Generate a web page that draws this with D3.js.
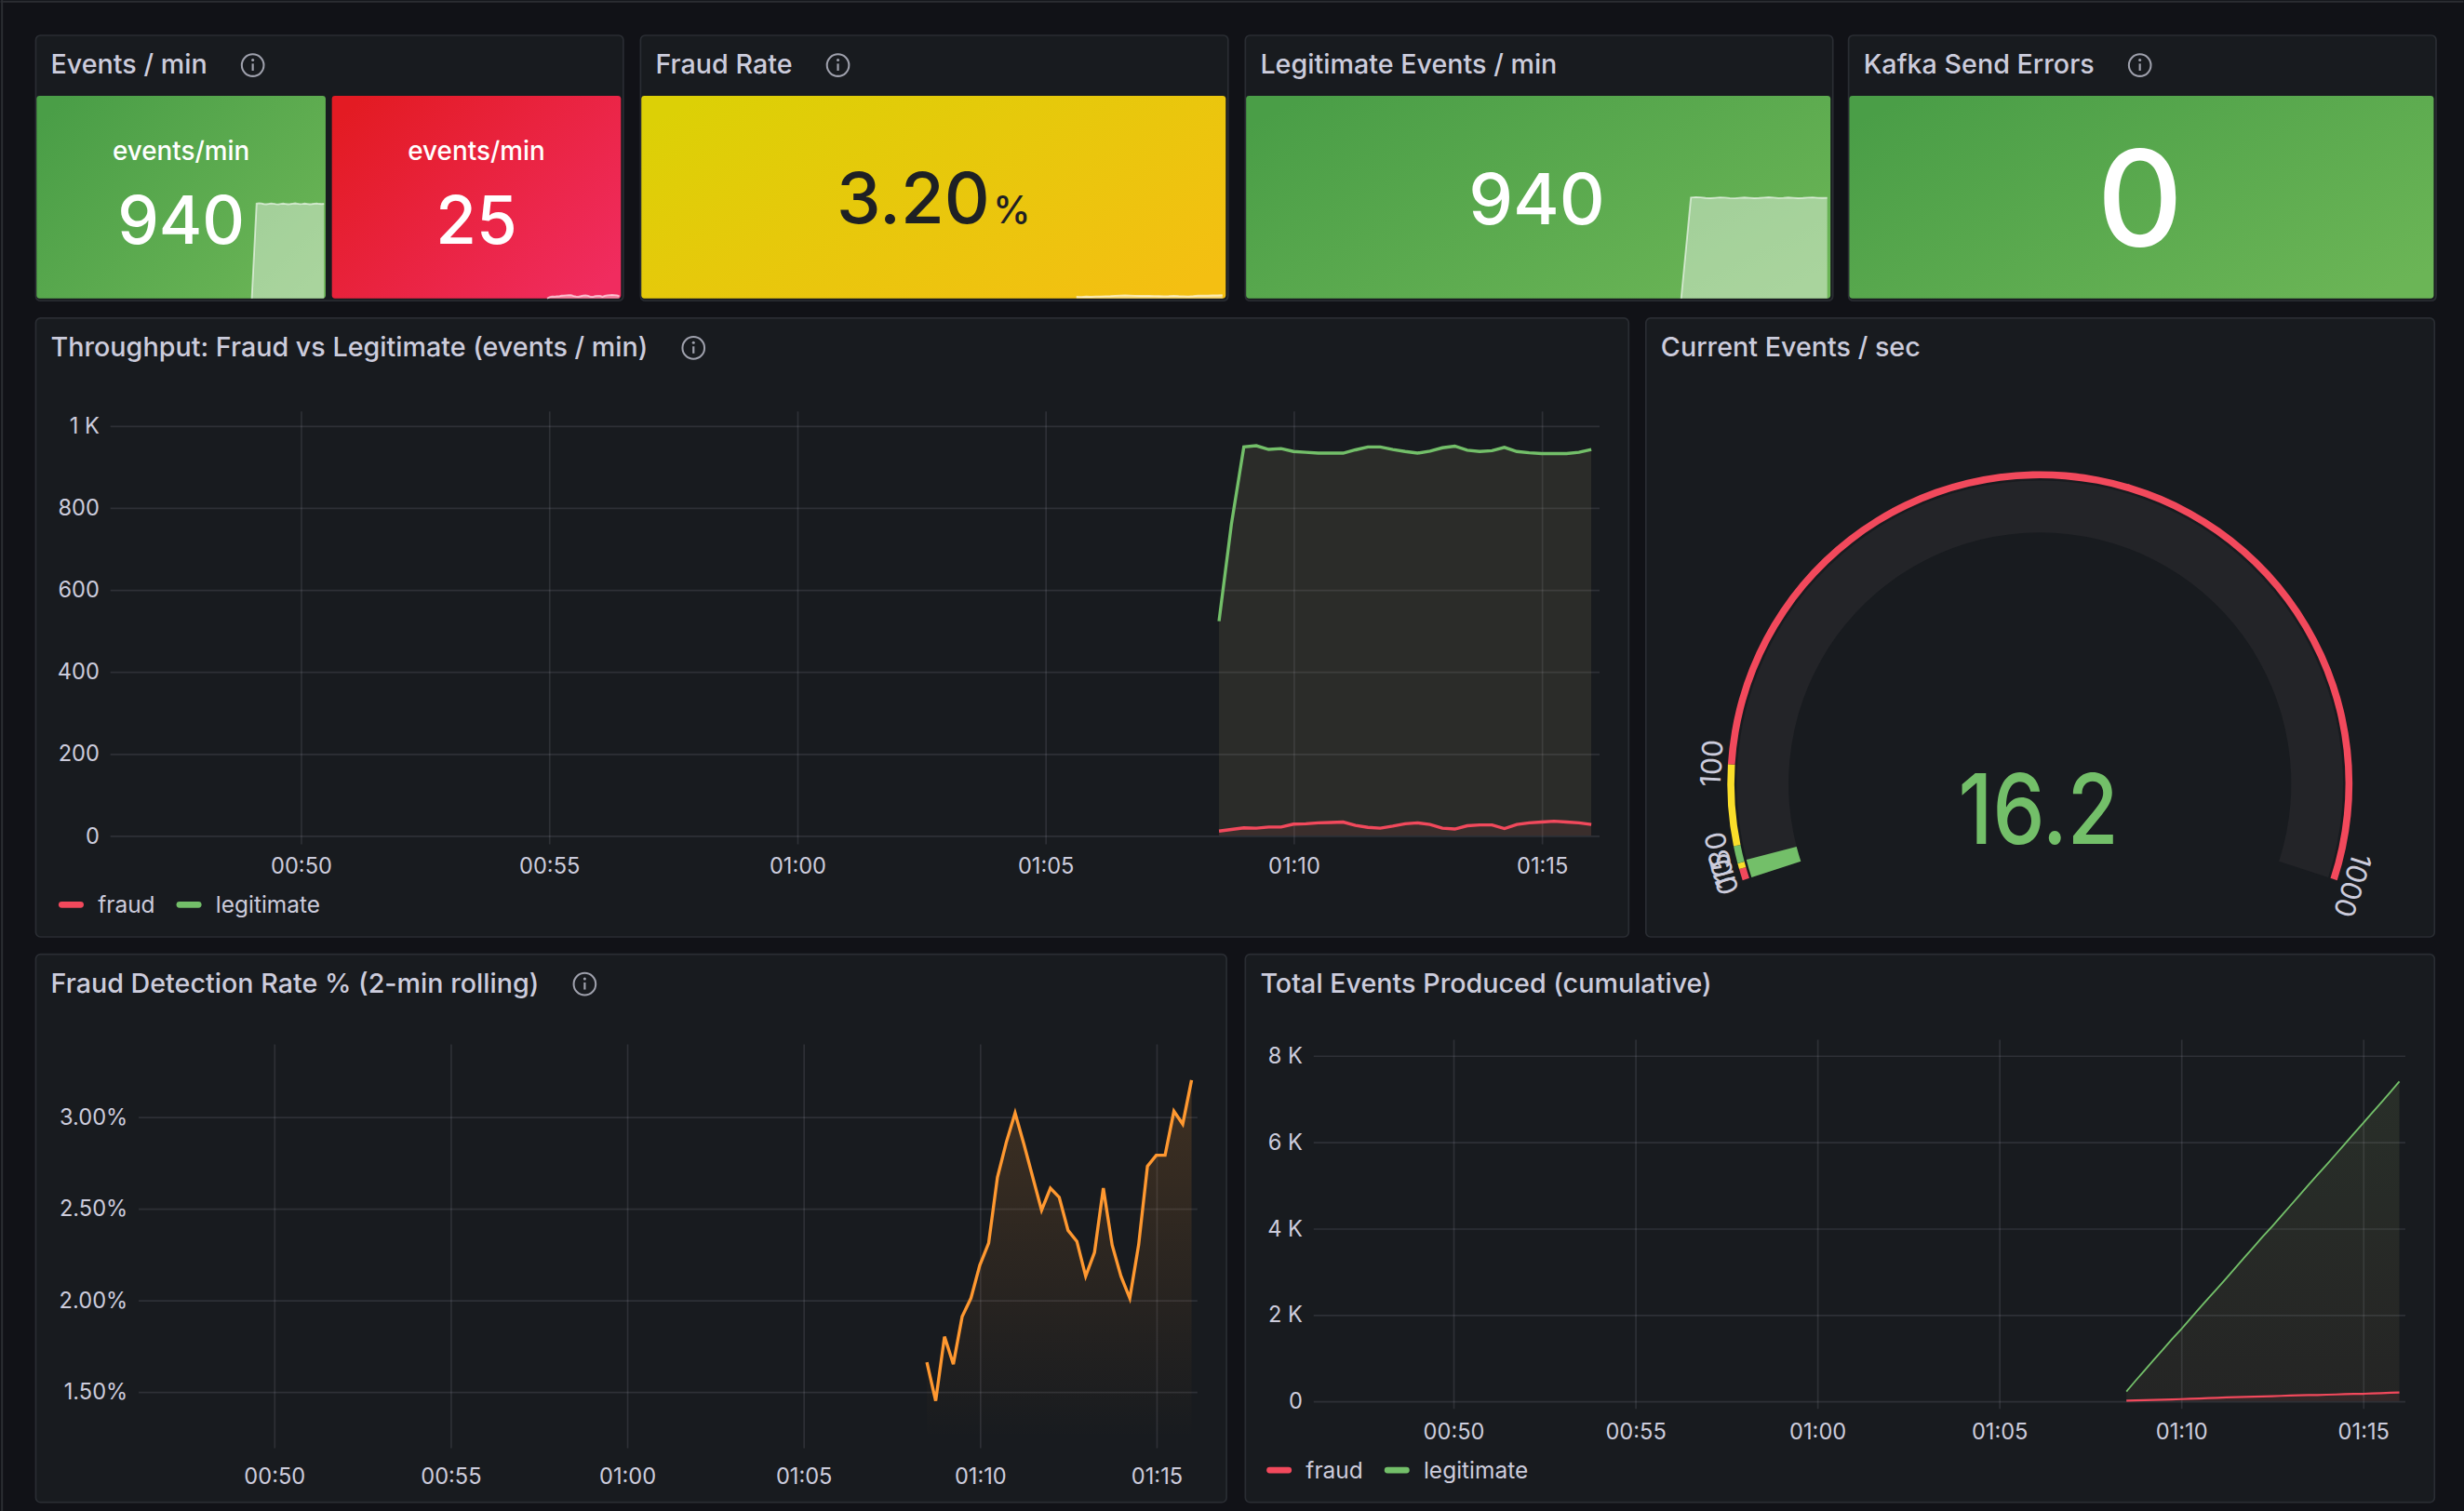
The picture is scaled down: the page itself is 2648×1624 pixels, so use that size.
<!DOCTYPE html>
<html>
<head>
<meta charset="utf-8">
<script src="https://cdn.jsdelivr.net/npm/d3@7"></script>
<style>
  html, body { margin: 0; background: #111217; }
  svg { display: block; font-family: Inter, "Noto Sans", sans-serif; }
  .ax .domain { display: none; }
  .ax line { stroke: rgba(204,204,220,0.12); }
  .ax text { fill: #ccccdc; font-size: 14px; font-family: Inter, "Noto Sans", sans-serif; }
</style>
</head>
<body>
<svg id="dash"></svg>
<script>
// ---- data (15 s steps) ----
const times = ["01:08:30","01:08:45","01:09:00","01:09:15","01:09:30","01:09:45","01:10:00","01:10:15",
  "01:10:30","01:10:45","01:11:00","01:11:15","01:11:30","01:11:45","01:12:00","01:12:15","01:12:30",
  "01:12:45","01:13:00","01:13:15","01:13:30","01:13:45","01:14:00","01:14:15","01:14:30","01:14:45",
  "01:15:00","01:15:15","01:15:30","01:15:45","01:16:00"];
const legitRate = [523, 760, 948, 951, 942, 944, 937, 935, 933, 933, 933, 941, 948, 948, 942, 937,
  933, 938, 946, 950, 940, 937, 939, 947, 937, 934, 932, 932, 932, 935, 942];
const fraudRate = [11, 15, 19, 18, 21, 21, 28, 29, 31, 32, 33, 25, 20, 18, 23, 29,
  31, 27, 18, 16, 24, 26, 26, 17, 27, 31, 33, 35, 33, 31, 27];
const fraudPct = [1.66, 1.45, 1.80, 1.65, 1.91, 2.01, 2.19, 2.31, 2.67, 2.86, 3.02, 2.85, 2.67, 2.49,
  2.61, 2.56, 2.38, 2.32, 2.13, 2.26, 2.61, 2.30, 2.13, 2.01, 2.30, 2.73, 2.79, 2.79, 3.03, 2.96, 3.20];
const totalLegit = [220, 470, 710, 950, 1190, 1430, 1660, 1900, 2140, 2380, 2610, 2850, 3090, 3330,
  3570, 3810, 4040, 4280, 4520, 4760, 5000, 5240, 5470, 5710, 5950, 6190, 6430, 6670, 6910, 7150, 7400];
const totalFraud = [8, 14, 20, 26, 32, 38, 45, 52, 60, 68, 76, 84, 90, 95, 100, 106, 113, 120, 127,
  133, 137, 141, 147, 153, 159, 164, 168, 175, 183, 191, 198];
const statLegit = [0, 470, 942, 946, 944, 938, 936, 940, 944, 941, 937, 935, 939, 943, 940, 936,
  938, 942, 945, 941, 937, 939, 943, 940, 936, 938, 942, 944, 940, 938, 940];
const statFraud = [0, 12, 19, 18, 21, 21, 28, 29, 31, 32, 33, 25, 20, 18, 23, 29,
  31, 27, 18, 16, 24, 26, 26, 17, 27, 31, 33, 35, 33, 31, 25];

const timeRange = ["00:46:10", "01:16:10"];
const timeTicks = ["00:50", "00:55", "01:00", "01:05", "01:10", "01:15"];
const throughputTicks = [0, 200, 400, 600, 800, 1000];
const pctTicks = [1.5, 2.0, 2.5, 3.0];
const totalTicks = [0, 2000, 4000, 6000, 8000];

const gaugeValue = 16.2;
const gaugeMax = 1000;
const gaugeSteps = [0, 10, 15, 30, 100];
const gaugeStepColors = ["#f2495c", "#fade2a", "#73bf69", "#fade2a", "#f2495c"];
const gaugeLabels = [0, 10, 15, 30, 100, 1000];

const kafkaErrors = 0;

// ---- setup ----
const W = 1568, H = 962;
const RED = "#f2495c", GREEN = "#73bf69", ORANGE = "#ff9830", TEXT = "#ccccdc";
const parse = d3.timeParse("%H:%M:%S");
const parseHM = d3.timeParse("%H:%M");
const T = times.map(parse);
const tDomain = timeRange.map(parse);

const svg = d3.select("#dash")
  .attr("width", 2648).attr("height", 1624)
  .attr("viewBox", `0 0 ${W} ${H}`);
const defs = svg.append("defs");

svg.append("rect").attr("width", W).attr("height", H).attr("fill", "#111217");
svg.append("line").attr("x1", 0).attr("x2", W).attr("y1", 1).attr("y2", 1)
  .attr("stroke", "#2b2d32").attr("stroke-width", 1.2);
svg.append("line").attr("x1", 1).attr("x2", 1).attr("y1", 0).attr("y2", H)
  .attr("stroke", "#2b2d32").attr("stroke-width", 1.2);

function linGrad(id, c0, c1) {
  const g = defs.append("linearGradient").attr("id", id)
    .attr("x1", 0).attr("y1", 0.15).attr("x2", 1).attr("y2", 0.85);
  g.append("stop").attr("offset", "0%").attr("stop-color", c0);
  g.append("stop").attr("offset", "100%").attr("stop-color", c1);
}
linGrad("gGreen", "#4a9e47", "#6bb556");
linGrad("gRed", "#e31b23", "#f02c5f");
linGrad("gYellow", "#dcd006", "#f4bf12");

function panel(x, y, w, h, title, info) {
  const g = svg.append("g");
  g.append("rect").attr("x", x + 0.5).attr("y", y + 0.5).attr("width", w).attr("height", h)
    .attr("rx", 3).attr("fill", "#181b1f").attr("stroke", "#2a2d33");
  const t = g.append("text").attr("x", x + 10).attr("y", y + 25)
    .attr("fill", TEXT).attr("font-size", 17).attr("font-weight", 500).text(title);
  if (info) {
    const cx = x + 10 + t.node().getComputedTextLength() + 29, cy = y + 19.5;
    g.append("circle").attr("cx", cx).attr("cy", cy).attr("r", 7)
      .attr("fill", "none").attr("stroke", "#9fa1ad").attr("stroke-width", 1.2);
    g.append("line").attr("x1", cx).attr("x2", cx).attr("y1", cy - 1).attr("y2", cy + 3.5)
      .attr("stroke", "#9fa1ad").attr("stroke-width", 1.3);
    g.append("circle").attr("cx", cx).attr("cy", cy - 3.3).attr("r", 0.9).attr("fill", "#9fa1ad");
  }
  return g;
}

function sparkline(x, y, w, h, values, maxV, frac) {
  const sx = d3.scaleTime().domain(tDomain).range([x, x + w]);
  const sy = d3.scaleLinear().domain([0, maxV]).range([y + h, y + h - h * frac]);
  svg.append("path").datum(values)
    .attr("d", d3.area().x((d, i) => sx(T[i])).y0(y + h).y1(d => sy(d)))
    .attr("fill", "#ffffff").attr("fill-opacity", 0.42);
  svg.append("path").datum(values)
    .attr("d", d3.line().x((d, i) => sx(T[i])).y(d => sy(d)))
    .attr("fill", "none").attr("stroke", "#ffffff").attr("stroke-opacity", 0.6).attr("stroke-width", 1.1);
}

function statBox(x, y, w, h, grad) {
  svg.append("rect").attr("x", x).attr("y", y).attr("width", w).attr("height", h)
    .attr("rx", 2).attr("fill", `url(#${grad})`);
}

// ---- top row stats ----
const boxY = 61, boxH = 129;
const sharedMax = d3.max(statLegit.concat(statFraud));

panel(22, 22, 374, 169, "Events / min", true);
statBox(23, boxY, 184, boxH, "gGreen");
statBox(211, boxY, 184, boxH, "gRed");
sparkline(23, boxY, 184, boxH, statLegit, sharedMax, 0.47);
sparkline(211, boxY, 184, boxH, statFraud, sharedMax, 0.47);
[[115, statLegit], [303, statFraud]].forEach(([cx, vals]) => {
  svg.append("text").attr("x", cx).attr("y", 102).attr("text-anchor", "middle")
    .attr("fill", "#fff").attr("font-size", 16.5).attr("font-weight", 500).text("events/min");
  svg.append("text").attr("x", cx).attr("y", 155).attr("text-anchor", "middle")
    .attr("fill", "#fff").attr("font-size", 42).attr("font-weight", 500)
    .text(d3.format("d")(vals[vals.length - 1]));
});

panel(407, 22, 374, 169, "Fraud Rate", true);
statBox(408, boxY, 372, boxH, "gYellow");
sparkline(408, boxY, 372, boxH, fraudPct, 100, 0.5);
const fr = svg.append("text").attr("x", 594).attr("y", 142).attr("text-anchor", "middle")
  .attr("fill", "#1e2024").attr("font-weight", 500);
fr.append("tspan").attr("font-size", 45).text(fraudPct[fraudPct.length - 1].toFixed(2));
fr.append("tspan").attr("font-size", 24).attr("dx", 2).text("%");

panel(792, 22, 374, 169, "Legitimate Events / min", false);
statBox(793, boxY, 372, boxH, "gGreen");
sparkline(793, boxY, 372, boxH, statLegit, d3.max(statLegit), 0.5);
svg.append("text").attr("x", 978).attr("y", 143).attr("text-anchor", "middle")
  .attr("fill", "#fff").attr("font-size", 45).attr("font-weight", 500)
  .text(d3.format("d")(statLegit[statLegit.length - 1]));

panel(1176, 22, 374, 169, "Kafka Send Errors", true);
statBox(1177, boxY, 372, boxH, "gGreen");
svg.append("text").attr("x", 1362).attr("y", 157).attr("text-anchor", "middle")
  .attr("fill", "#fff").attr("font-size", 85).attr("font-weight", 500).text(kafkaErrors);

// ---- axes helper ----
function axes(x, y, top, gridBottom, yTicks, yFmt, pad) {
  const [x0, x1] = x.range();
  svg.append("g").attr("class", "ax").attr("transform", `translate(${x0},0)`)
    .call(d3.axisLeft(y).tickValues(yTicks).tickFormat(yFmt).tickSize(-(x1 - x0)).tickPadding(7));
  svg.append("g").attr("class", "ax").attr("transform", `translate(0,${gridBottom})`)
    .call(d3.axisBottom(x).tickValues(timeTicks.map(parseHM))
      .tickFormat(d3.timeFormat("%H:%M")).tickSize(-(gridBottom - top)).tickPadding(pad));
}

function legend(x, y) {
  [["fraud", RED], ["legitimate", GREEN]].forEach(([name, c], i) => {
    const lx = x + i * 75;
    svg.append("rect").attr("x", lx).attr("y", y - 2).attr("width", 16).attr("height", 4)
      .attr("rx", 2).attr("fill", c);
    svg.append("text").attr("x", lx + 25).attr("y", y + 5).attr("fill", TEXT)
      .attr("font-size", 14.5).text(name);
  });
}

const kFmt = d => d === 0 ? "0" : d >= 1000 ? (d / 1000) + " K" : String(d);

// ---- throughput ----
panel(22, 202, 1014, 394, "Throughput: Fraud vs Legitimate (events / min)", true);
{
  const x = d3.scaleTime().domain(tDomain).range([70, 1018]);
  const y = d3.scaleLinear().domain([0, 1000]).range([532, 271]);
  const bottom = y(0);
  axes(x, y, 262, 537.5, throughputTicks, kFmt, 8.5);
  const area = d3.area().x((d, i) => x(T[i])).y0(bottom).y1(d => y(d));
  const line = d3.line().x((d, i) => x(T[i])).y(d => y(d));
  svg.append("path").datum(legitRate).attr("d", area).attr("fill", GREEN).attr("fill-opacity", 0.1);
  svg.append("path").datum(legitRate).attr("d", area).attr("fill", RED).attr("fill-opacity", 0.05);
  svg.append("path").datum(fraudRate).attr("d", area).attr("fill", RED).attr("fill-opacity", 0.08);
  svg.append("path").datum(legitRate).attr("d", line).attr("fill", "none")
    .attr("stroke", GREEN).attr("stroke-width", 2);
  svg.append("path").datum(fraudRate).attr("d", line).attr("fill", "none")
    .attr("stroke", RED).attr("stroke-width", 2);
  legend(37, 576);
}

// ---- gauge ----
panel(1047, 202, 502, 394, "Current Events / sec", false);
{
  const cx = 1298.3, cy = 499;
  const deg = Math.PI / 180;
  const ang = d3.scaleLinear().domain([0, gaugeMax]).range([-108 * deg, 108 * deg]);
  const arc = d3.arc();
  const g = svg.append("g").attr("transform", `translate(${cx},${cy})`);
  g.append("path").attr("d", arc({ innerRadius: 160, outerRadius: 193,
    startAngle: ang(0), endAngle: ang(gaugeMax) })).attr("fill", "#232428");
  g.append("path").attr("d", arc({ innerRadius: 160, outerRadius: 193,
    startAngle: ang(0), endAngle: ang(gaugeValue) })).attr("fill", GREEN);
  gaugeSteps.forEach((s, i) => {
    const e = i < gaugeSteps.length - 1 ? gaugeSteps[i + 1] : gaugeMax;
    g.append("path").attr("d", arc({ innerRadius: 194.5, outerRadius: 199,
      startAngle: ang(s), endAngle: ang(e) })).attr("fill", gaugeStepColors[i]);
  });
  gaugeLabels.forEach(v => {
    const a = ang(v), r = 203;
    g.append("text")
      .attr("transform", `translate(${r * Math.sin(a)},${-r * Math.cos(a)}) rotate(${a / deg})`)
      .attr("text-anchor", "middle").attr("fill", TEXT).attr("font-size", 18).text(v);
  });
  g.append("text").attr("transform", "translate(-1,38) scale(0.85,1)")
    .attr("text-anchor", "middle").attr("fill", GREEN).attr("font-size", 62).attr("font-weight", 500)
    .text(gaugeValue.toFixed(1));
}

// ---- fraud detection rate ----
panel(22, 607, 758, 349, "Fraud Detection Rate % (2-min rolling)", true);
{
  const x = d3.scaleTime().domain(tDomain).range([88, 762]);
  const y = d3.scaleLinear().domain([1.5, 3.0]).range([886, 711]);
  const bottom = 916, top = 665;
  axes(x, y, top, 922, pctTicks, d => d.toFixed(2) + "%", 13);
  const gr = defs.append("linearGradient").attr("id", "gOrange")
    .attr("gradientUnits", "userSpaceOnUse").attr("x1", 0).attr("x2", 0)
    .attr("y1", y(d3.max(fraudPct))).attr("y2", bottom);
  gr.append("stop").attr("offset", "0%").attr("stop-color", ORANGE).attr("stop-opacity", 0.17);
  gr.append("stop").attr("offset", "100%").attr("stop-color", ORANGE).attr("stop-opacity", 0.0);
  svg.append("path").datum(fraudPct)
    .attr("d", d3.area().x((d, i) => x(T[i])).y0(bottom).y1(d => y(d)))
    .attr("fill", "url(#gOrange)");
  svg.append("path").datum(fraudPct)
    .attr("d", d3.line().x((d, i) => x(T[i])).y(d => y(d)))
    .attr("fill", "none").attr("stroke", ORANGE).attr("stroke-width", 2);
}

// ---- total events ----
panel(792, 607, 757, 349, "Total Events Produced (cumulative)", false);
{
  const x = d3.scaleTime().domain(tDomain).range([836, 1531]);
  const y = d3.scaleLinear().domain([0, 8000]).range([892, 672]);
  const bottom = y(0);
  axes(x, y, 662, 897, totalTicks, kFmt, 9.5);
  const area = d3.area().x((d, i) => x(T[i])).y0(bottom).y1(d => y(d));
  const line = d3.line().x((d, i) => x(T[i])).y(d => y(d));
  const gg = defs.append("linearGradient").attr("id", "gTotal")
    .attr("gradientUnits", "userSpaceOnUse").attr("x1", 0).attr("x2", 0)
    .attr("y1", y(d3.max(totalLegit))).attr("y2", bottom);
  gg.append("stop").attr("offset", "0%").attr("stop-color", GREEN).attr("stop-opacity", 0.12);
  gg.append("stop").attr("offset", "100%").attr("stop-color", GREEN).attr("stop-opacity", 0.06);
  svg.append("path").datum(totalLegit).attr("d", area).attr("fill", "url(#gTotal)");
  svg.append("path").datum(totalLegit).attr("d", area).attr("fill", RED).attr("fill-opacity", 0.03);
  svg.append("path").datum(totalFraud).attr("d", area).attr("fill", RED).attr("fill-opacity", 0.08);
  svg.append("path").datum(totalLegit).attr("d", line).attr("fill", "none")
    .attr("stroke", GREEN).attr("stroke-width", 1.1);
  svg.append("path").datum(totalFraud).attr("d", line).attr("fill", "none")
    .attr("stroke", RED).attr("stroke-width", 1.3);
  legend(806, 936);
}
</script>
</body>
</html>
